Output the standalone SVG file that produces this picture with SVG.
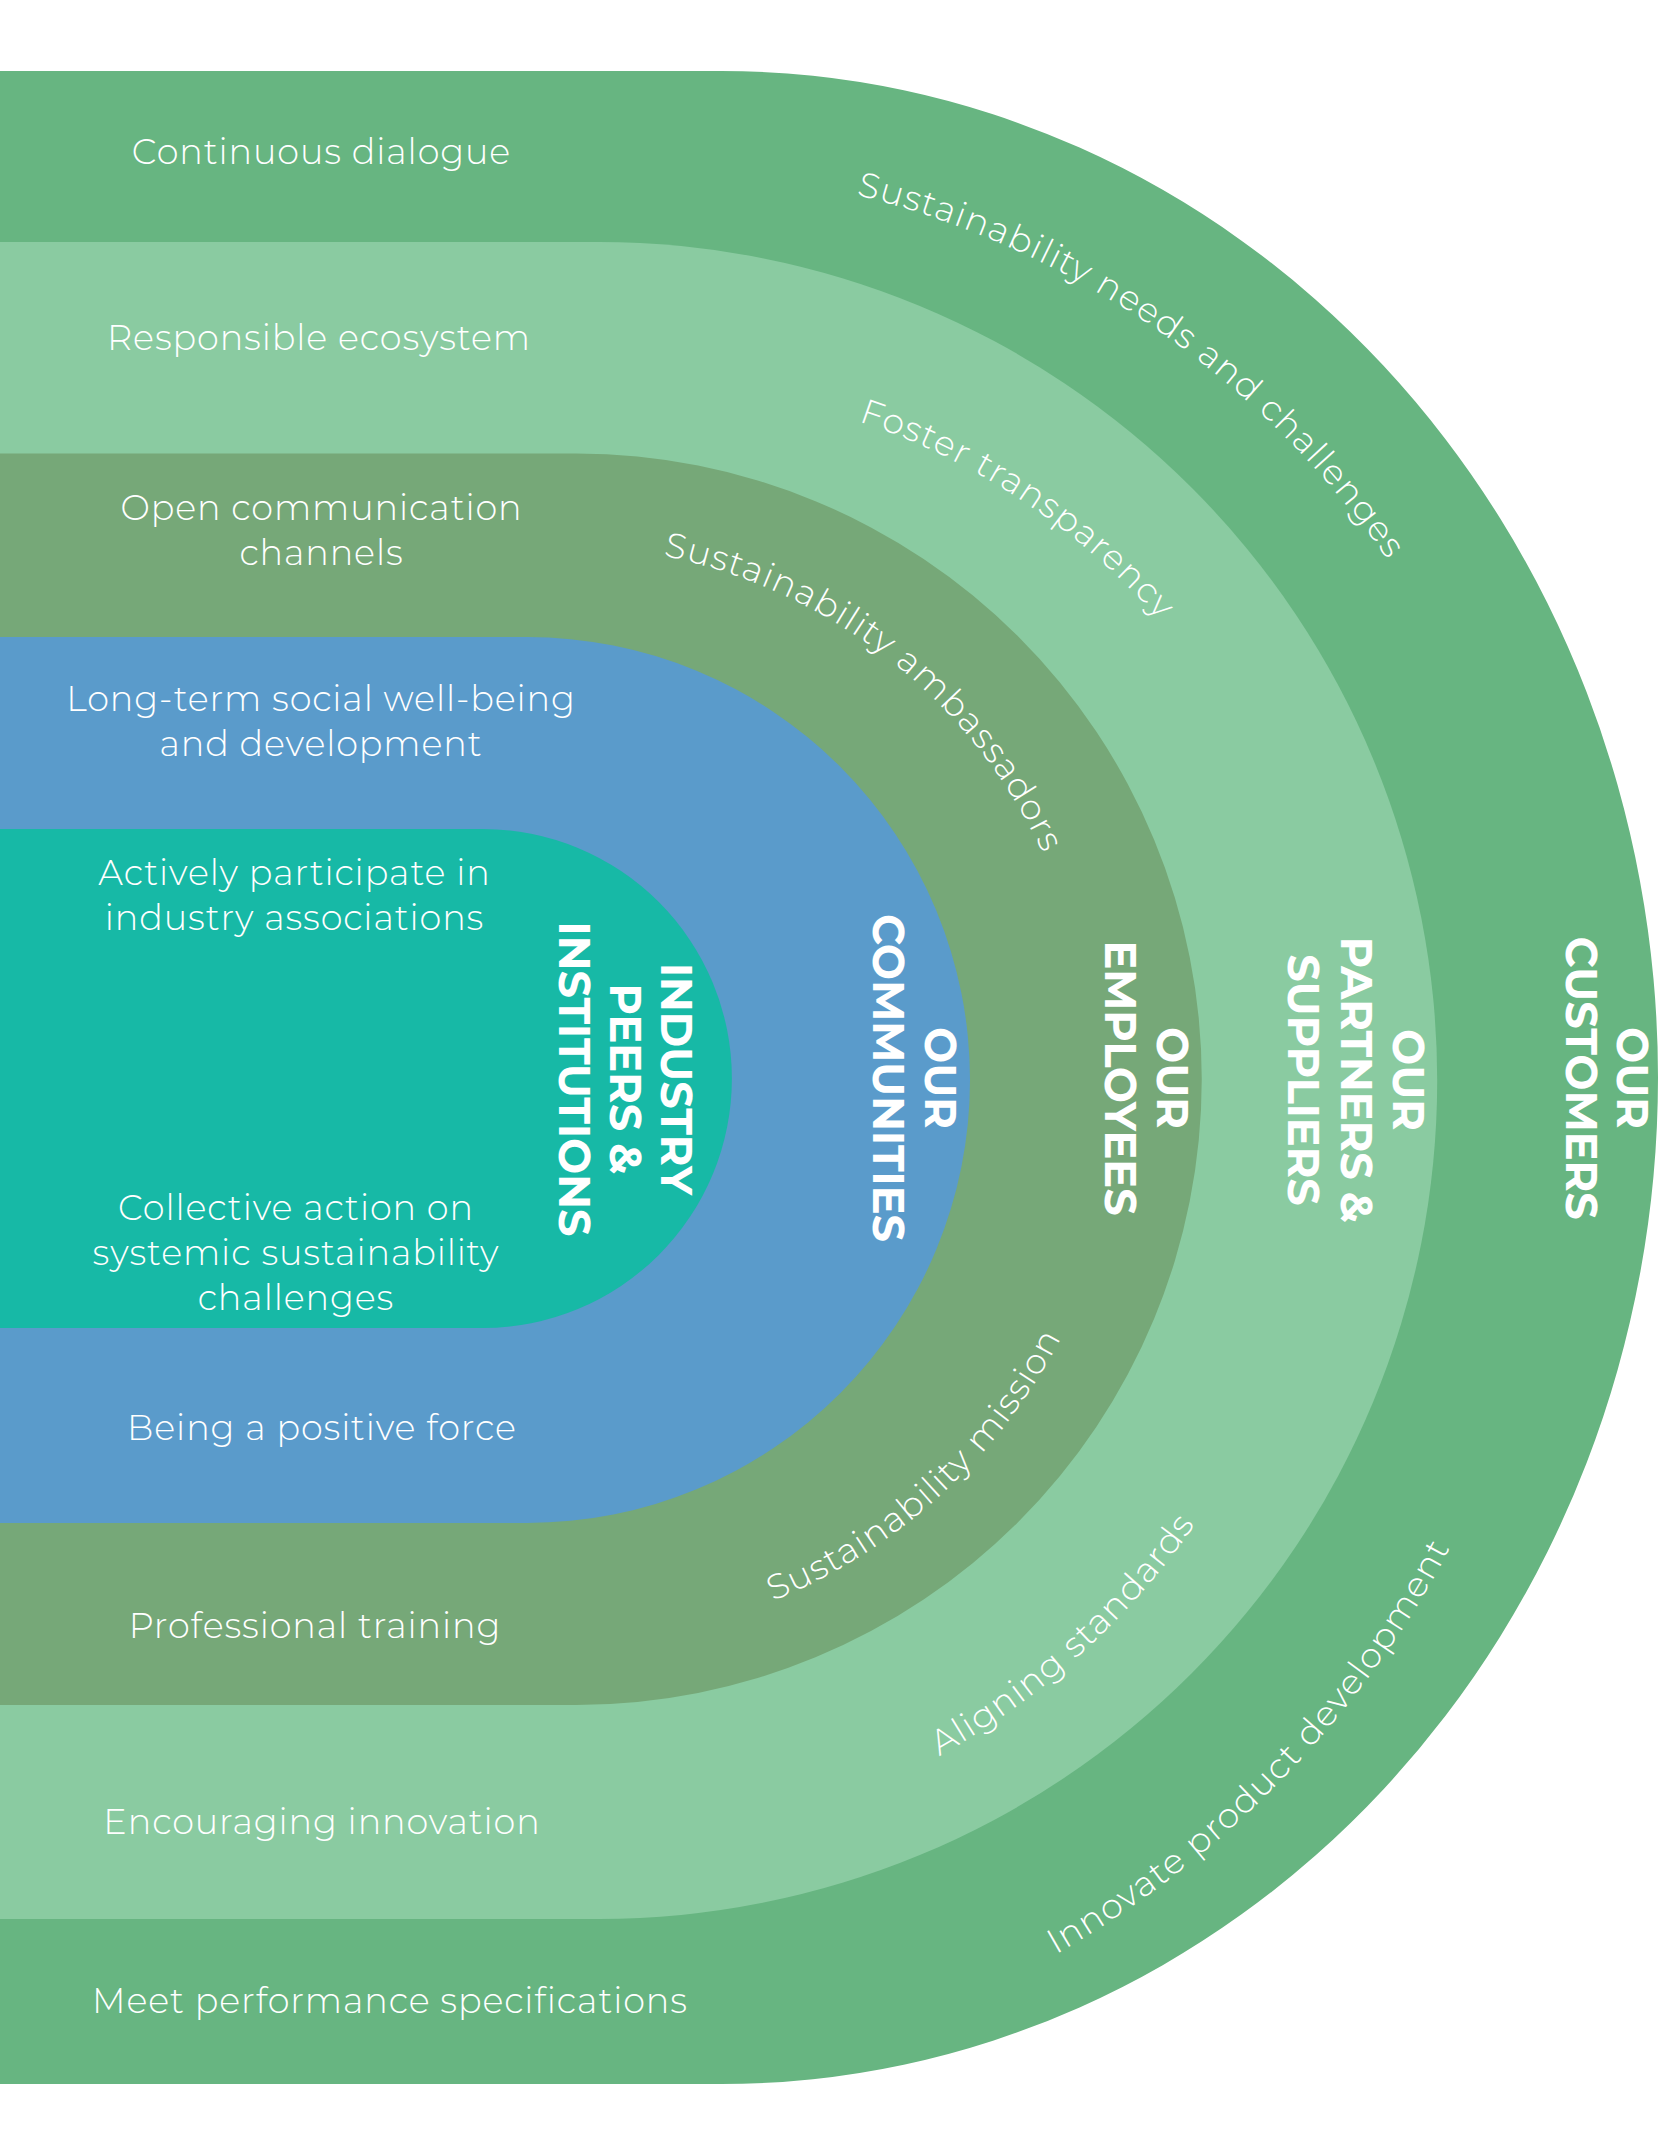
<svg xmlns="http://www.w3.org/2000/svg" width="1675" height="2154" viewBox="0 0 1675 2154">
<style>
.b{font-family:"Montserrat","Open Sans","Liberation Sans",sans-serif;font-weight:300;font-size:35px;fill:#fff;text-anchor:middle;letter-spacing:0.9px}
.a{font-family:"Montserrat","Open Sans","Liberation Sans",sans-serif;font-weight:300;font-size:35px;fill:#fff;letter-spacing:1.2px}
.h{font-family:"Montserrat","Open Sans","Liberation Sans",sans-serif;font-weight:700;font-size:43px;fill:#fff;text-anchor:middle;letter-spacing:0px}
</style>
<defs>
<path id="pNeeds" d="M798,182.8 A910,910 0 0 1 1420,610.4"/>
<path id="pFoster" d="M819.4,409.6 A693,693 0 0 1 1186.1,652.3"/>
<path id="pAmb" d="M606.5,548 A533,533 0 0 1 1064.5,907.2"/>
<path id="pMission" d="M706,1623.8 A564,564 0 0 0 1090,1271.9"/>
<path id="pAlign" d="M875.6,1787.9 A776,776 0 0 0 1234,1463.5"/>
<path id="pInnov" d="M969.2,1998 A1006,1006 0 0 0 1491.5,1459.1"/>
</defs>
<rect width="1675" height="2154" fill="#fff"/>
<g id="customers">
<path d="M0,71 H721 A937,1006.5 0 0 1 1658,1077.5 A937,1006.5 0 0 1 721,2084 H0 Z" fill="#67B581"/>
</g>
<g id="partners">
<path d="M0,242 H599 A838.5,838.5 0 0 1 599,1919 H0 Z" fill="#8ACBA1"/>
</g>
<g id="employees">
<path d="M0,453.5 H576 A625.75,625.75 0 0 1 576,1705 H0 Z" fill="#76A878"/>
</g>
<g id="communities">
<path d="M0,637 H527 A443,443 0 0 1 527,1523 H0 Z" fill="#5A9BCB"/>
</g>
<g id="industry">
<path d="M0,829 H482.5 A249.5,249.5 0 0 1 482.5,1328 H0 Z" fill="#17B9A6"/>
</g>
<g id="connectors"></g>
<g id="labels">
<text class="b" x="321.5" y="164">Continuous dialogue</text>
<text class="b" x="319" y="350">Responsible ecosystem</text>
<text class="b" x="321.5" y="520">Open communication<tspan x="321.5" dy="45">channels</tspan></text>
<text class="b" x="321" y="711">Long-term social well-being<tspan x="321" dy="45">and development</tspan></text>
<text class="b" x="294.5" y="885">Actively participate in<tspan x="294.5" dy="45">industry associations</tspan></text>
<text class="b" x="296" y="1220">Collective action on<tspan x="296" dy="45">systemic sustainability</tspan><tspan x="296" dy="45">challenges</tspan></text>
<text class="b" x="322" y="1440">Being a positive force</text>
<text class="b" x="315" y="1638">Professional training</text>
<text class="b" x="322" y="1834">Encouraging innovation</text>
<text class="b" x="390" y="2013">Meet performance specifications</text>
<text class="a"><textPath href="#pNeeds" startOffset="50%" text-anchor="middle">Sustainability needs and challenges</textPath></text>
<text class="a"><textPath href="#pFoster" startOffset="50%" text-anchor="middle">Foster transparency</textPath></text>
<text class="a"><textPath href="#pAmb" startOffset="50%" text-anchor="middle">Sustainability ambassadors</textPath></text>
<text class="a"><textPath href="#pMission" startOffset="50%" text-anchor="middle">Sustainability mission</textPath></text>
<text class="a"><textPath href="#pAlign" startOffset="50%" text-anchor="middle">Aligning standards</textPath></text>
<text class="a"><textPath href="#pInnov" startOffset="50%" text-anchor="middle">Innovate product development</textPath></text>
<text class="h" transform="translate(1617,1078) rotate(90)" x="0" y="0">OUR<tspan x="0" dy="51">CUSTOMERS</tspan></text>
<text class="h" transform="translate(1393,1080) rotate(90)" x="0" y="0">OUR<tspan x="0" dy="52.5">PARTNERS &amp;</tspan><tspan x="0" dy="52.5">SUPPLIERS</tspan></text>
<text class="h" transform="translate(1157,1078) rotate(90)" x="0" y="0">OUR<tspan x="0" dy="52">EMPLOYEES</tspan></text>
<text class="h" transform="translate(925,1078) rotate(90)" x="0" y="0">OUR<tspan x="0" dy="52">COMMUNITIES</tspan></text>
<text class="h" transform="translate(661,1079) rotate(90)" x="0" y="0">INDUSTRY<tspan x="0" dy="51">PEERS &amp;</tspan><tspan x="0" dy="51">INSTITUTIONS</tspan></text>
</g>
</svg>
